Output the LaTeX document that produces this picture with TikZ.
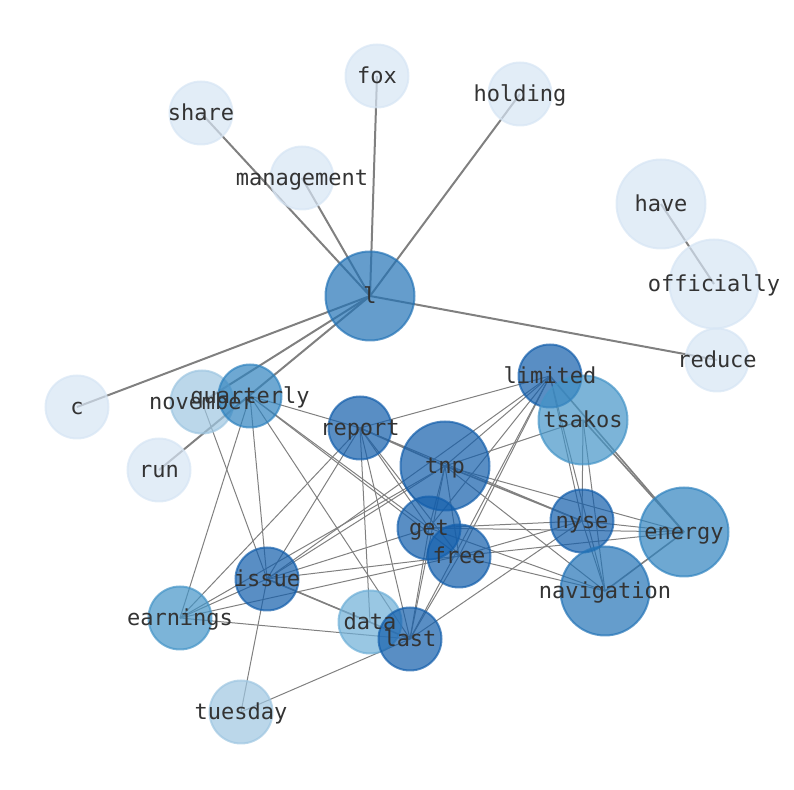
\documentclass[tikz,border=0pt]{standalone}
\usepackage{fontspec}
\setmonofont{DejaVu Sans Mono}
\usepackage{tikz}
\usetikzlibrary{backgrounds}
\definecolor{bpale}{HTML}{D6E5F4}
\definecolor{blight}{HTML}{9EC6E1}
\definecolor{bdata}{HTML}{6EAFD7}
\definecolor{bmid}{HTML}{4494C7}
\definecolor{bquart}{HTML}{3083BF}
\definecolor{bhub}{HTML}{2373B6}
\definecolor{bdark}{HTML}{135EAB}
\tikzstyle{vertex}=[circle,draw,line width=1pt,minimum size=31.5pt,inner sep=0pt,opacity=0.7]
\tikzstyle{big}=[minimum size=44.5pt]
\tikzstyle{pale}=[draw=bpale,fill=bpale]
\tikzstyle{light}=[draw=blight,fill=blight]
\tikzstyle{soft}=[draw=bdata,fill=bdata]
\tikzstyle{mid}=[draw=bmid,fill=bmid]
\tikzstyle{quart}=[draw=bquart,fill=bquart]
\tikzstyle{hub}=[draw=bhub,fill=bhub]
\tikzstyle{dark}=[draw=bdark,fill=bdark]
\tikzstyle{word}=[text=black!80,font=\ttfamily\fontsize{11}{13}\selectfont,inner sep=0pt,text height=0.76em,text depth=0.24em,yshift=-1pt]
\tikzstyle{link}=[draw=gray,line width=0.5pt]
\tikzstyle{double link}=[draw=gray,line width=0.8pt]
\tikzstyle{spoke}=[draw=gray,line width=1pt]

\begin{document}
\begin{tikzpicture}[x=0.5pt,y=-0.5pt]
\useasboundingbox (0,0) rectangle (794,790);
% vertices
\node [vertex,pale] (fox) at (377,76) {};
\node [vertex,pale] (share) at (201,113) {};
\node [vertex,pale] (holding) at (520,94) {};
\node [vertex,pale] (management) at (302,178) {};
\node [vertex,big,pale] (have) at (661,204) {};
\node [vertex,big,pale] (officially) at (714,284) {};
\node [vertex,big,hub] (l) at (370,296) {};
\node [vertex,pale] (reduce) at (717,360) {};
\node [vertex,pale] (c) at (77,407) {};
\node [vertex,light] (november) at (202,402) {};
\node [vertex,quart] (quarterly) at (250,396) {};
\node [vertex,pale] (run) at (159,470) {};
\node [vertex,dark] (report) at (360,428) {};
\node [vertex,dark] (limited) at (550,376) {};
\node [vertex,big,mid] (tsakos) at (583,420) {};
\node [vertex,big,dark] (tnp) at (445,466) {};
\node [vertex,dark] (get) at (429,528) {};
\node [vertex,dark] (free) at (459,556) {};
\node [vertex,dark] (nyse) at (582,521) {};
\node [vertex,big,quart] (energy) at (684,532) {};
\node [vertex,big,hub] (navigation) at (605,591) {};
\node [vertex,dark] (issue) at (267,579) {};
\node [vertex,mid] (earnings) at (180,618) {};
\node [vertex,soft] (data) at (370,622) {};
\node [vertex,dark] (last) at (410,639) {};
\node [vertex,light] (tuesday) at (241,712) {};

% edges, under the vertices
\begin{scope}[on background layer]
\foreach \a/\b in {l/share,l/fox,l/holding,l/management,l/reduce,l/c,l/november,l/run,have/officially}
  \draw [spoke] (\a.center) -- (\b.center);
\foreach \a/\b in {report/tnp,tnp/nyse,tsakos/energy,limited/energy,energy/navigation,issue/last}
  \draw [double link] (\a.center) -- (\b.center);
\foreach \a/\b in {quarterly/report,quarterly/get,quarterly/free,quarterly/last,quarterly/issue,quarterly/earnings,
  november/issue,
  report/limited,report/nyse,report/get,report/free,report/issue,report/earnings,report/data,report/last,
  limited/tnp,limited/get,limited/free,limited/last,limited/issue,limited/nyse,limited/navigation,
  tsakos/tnp,tsakos/nyse,tsakos/navigation,
  tnp/get,tnp/free,tnp/last,tnp/issue,tnp/energy,tnp/navigation,tnp/earnings,
  get/nyse,get/energy,get/navigation,get/last,get/issue,
  free/nyse,free/energy,free/navigation,free/last,free/issue,free/earnings,
  nyse/energy,nyse/navigation,nyse/last,
  issue/data,issue/tuesday,issue/earnings,
  earnings/last,last/tuesday}
  \draw [link] (\a.center) -- (\b.center);
\end{scope}

% labels on top
\foreach \n in {fox,share,holding,management,have,officially,l,reduce,c,november,quarterly,run,report,
  limited,tsakos,tnp,get,free,nyse,energy,navigation,issue,earnings,data,last,tuesday}
  \node [word] (\n-w) at (\n) {\n};
\end{tikzpicture}
\end{document}
